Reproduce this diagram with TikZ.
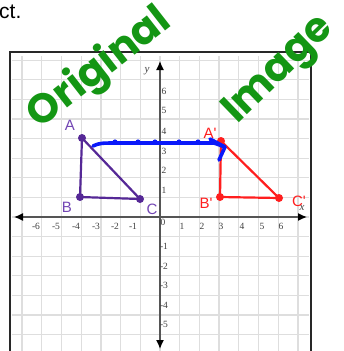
\documentclass[tikz,border=0pt]{standalone}
\usepackage{fontspec}
\setmainfont{Liberation Serif}
\newfontfamily\sansf{Liberation Sans}
\newfontfamily\handf{Poppins}
\usetikzlibrary{arrows.meta}
\definecolor{gridc}{RGB}{222,222,222}
\definecolor{axisc}{RGB}{85,85,85}
\definecolor{framec}{RGB}{40,40,40}
\definecolor{purp}{RGB}{85,40,150}
\definecolor{purpl}{RGB}{115,70,180}
\definecolor{redc}{RGB}{255,30,30}
\definecolor{bluec}{RGB}{10,25,250}
\definecolor{greenc}{RGB}{20,150,20}
\tikzset{
  gridline/.style={draw=gridc, line width=1.3pt},
  axisline/.style={draw=axisc, line width=1.3pt, {Latex[length=9pt,width=8pt,color=black]}-{Latex[length=9pt,width=8pt,color=black]}},
  framebox/.style={draw=framec, line width=2pt},
  num/.style={inner sep=0pt, text=black!75, font=\fontsize{9.5}{9.5}\selectfont},
  axlab/.style={inner sep=0pt, text=black!75, font=\itshape\fontsize{11}{11}\selectfont},
  pdot/.style={circle, fill=#1, inner sep=0pt, minimum size=8pt},
  triline/.style={draw=#1, line width=2.2pt, line join=round},
  ptlab/.style={inner sep=0pt, text=#1, font=\sansf\fontsize{15}{15}\selectfont},
  blueline/.style={draw=bluec, line width=3.6pt, line cap=round, line join=round},
  hand/.style={inner sep=0pt, text=greenc, font=\handf\bfseries\fontsize{#1}{#1}\selectfont},
}
\begin{document}
\begin{tikzpicture}[x=1pt,y=-1pt]
\useasboundingbox (0,0) rectangle (344,351);
\fill[white] (0,0) rectangle (344,351);
% grid
\begin{scope}
\clip (12,55) rectangle (309,351);
\foreach \k in {-7,...,7} \draw[gridline] ({160+19.7*\k},56) -- ({160+19.7*\k},355);
\foreach \k in {-7,...,8} \draw[gridline] (12,{217-19.6*\k}) -- (309,{217-19.6*\k});
\end{scope}
% frame
\draw[framebox] (10,52) rectangle (311,362);
% axes
\coordinate (xl) at (14,217);
\coordinate (xr) at (307,217);
\coordinate (yt) at (160,61);
\coordinate (yb) at (160,349);
\draw[axisline] (xl) -- (xr);
\draw[axisline] (yb) -- (yt);
\node[axlab] (ylab) at (147,71) {y};
\node[axlab] (xlab) at (302,208) {x};
% x numbers
\foreach \t/\px in {-6/36,-5/56,-4/76,-3/96,-2/115,-1/133,1/182,2/202,3/221,4/242,5/262,6/281}
  \node[num] (xn\t) at (\px,226) {\t};
\node[num] (zero) at (163,222) {0};
% y numbers
\foreach \t/\py in {6/91,5/110,4/131,3/151,2/170,1/190}
  \node[num] (yn\t) at (164,\py) {\t};
\foreach \t/\py in {-1/246,-2/266,-3/285,-4/305,-5/324}
  \node[num] (yn\t) at (164,\py) {\t};
% original triangle
\node[pdot=purp] (A) at (82,138) {};
\node[pdot=purp] (B) at (80,197) {};
\node[pdot=purp] (C) at (140,199) {};
\draw[triline=purp] (A.center) -- (B.center) -- (C.center) -- cycle;
\node[ptlab=purpl] (Al) at (70,125) {A};
\node[ptlab=purpl] (Bl) at (67,207) {B};
\node[ptlab=purpl] (Cl) at (152,209) {C};
% image triangle
\node[pdot=redc] (A2) at (221,141) {};
\node[pdot=redc] (B2) at (220,197) {};
\node[pdot=redc] (C2) at (279,198) {};
\draw[triline=redc] (A2.center) -- (B2.center) -- (C2.center) -- cycle;
\node[ptlab=redc] (A2l) at (210,133) {A'};
\node[ptlab=redc] (B2l) at (206,203) {B'};
\node[ptlab=redc] (C2l) at (299,201) {C'};
% blue arrow
\coordinate (bs) at (93,146);
\coordinate (bm) at (120,143);
\coordinate (bk) at (214,143);
\coordinate (be) at (225,147);
\coordinate (bh1) at (210,139);
\coordinate (bh2) at (219,160);
\draw[blueline] (bs) .. controls (100,143) .. (bm) -- (bk) -- (be);
\draw[blueline] (bh1) -- (be) -- (bh2);
\foreach \dx in {115,138,155,179,198}
  \fill[bluec] (\dx,142) circle (2.6pt);
% handwritten labels
\node[hand=41, rotate=38] (orig) at (100,69) {Original};
\node[hand=41, rotate=44] (img) at (280,71) {Image};
% clipped sentence end
\node[anchor=base west, inner sep=0pt, font=\sansf\fontsize{21}{21}\selectfont] (ct) at (-1,18) {ct.};
\end{tikzpicture}
\end{document}
